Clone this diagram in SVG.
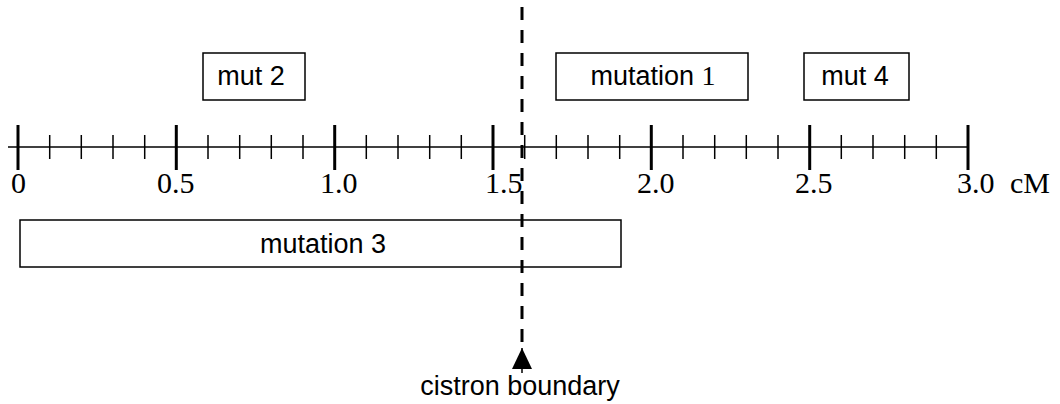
<svg xmlns="http://www.w3.org/2000/svg" width="1060" height="404" viewBox="0 0 1060 404">
<style>
.box{fill:#fff;stroke:#000;stroke-width:1.5}
.lab{font-family:"Liberation Sans",Arial,sans-serif;font-size:27px;fill:#000}
.ser{font-family:"Liberation Serif","Times New Roman",serif;font-size:30px;fill:#000}
.minor{stroke:#000;stroke-width:1.5}
.major{stroke:#000;stroke-width:3}
</style>
<defs>
<marker id="arr" viewBox="0 0 20 21" refX="10" refY="0" markerWidth="20" markerHeight="21" markerUnits="userSpaceOnUse" orient="0">
<path d="M0,21 L10,0 L20,21 Z" fill="#000"/>
</marker>
</defs>
<g id="axis">
<line x1="8" y1="147" x2="968" y2="147" stroke="#000" stroke-width="1.5"/>
<g class="minor">
<line x1="49.7" y1="135" x2="49.7" y2="159"/><line x1="81.3" y1="135" x2="81.3" y2="159"/><line x1="113" y1="135" x2="113" y2="159"/><line x1="144.7" y1="135" x2="144.7" y2="159"/>
<line x1="208" y1="135" x2="208" y2="159"/><line x1="239.7" y1="135" x2="239.7" y2="159"/><line x1="271.3" y1="135" x2="271.3" y2="159"/><line x1="303" y1="135" x2="303" y2="159"/>
<line x1="366.3" y1="135" x2="366.3" y2="159"/><line x1="398" y1="135" x2="398" y2="159"/><line x1="429.7" y1="135" x2="429.7" y2="159"/><line x1="461.3" y1="135" x2="461.3" y2="159"/>
<line x1="524.7" y1="135" x2="524.7" y2="159"/><line x1="556.3" y1="135" x2="556.3" y2="159"/><line x1="588" y1="135" x2="588" y2="159"/><line x1="619.7" y1="135" x2="619.7" y2="159"/>
<line x1="683" y1="135" x2="683" y2="159"/><line x1="714.7" y1="135" x2="714.7" y2="159"/><line x1="746.3" y1="135" x2="746.3" y2="159"/><line x1="778" y1="135" x2="778" y2="159"/>
<line x1="841.3" y1="135" x2="841.3" y2="159"/><line x1="873" y1="135" x2="873" y2="159"/><line x1="904.7" y1="135" x2="904.7" y2="159"/><line x1="936.3" y1="135" x2="936.3" y2="159"/>
</g>
<g class="major">
<line x1="18" y1="125" x2="18" y2="170"/><line x1="176.3" y1="125" x2="176.3" y2="170"/><line x1="334.7" y1="125" x2="334.7" y2="170"/><line x1="493" y1="125" x2="493" y2="170"/><line x1="651.3" y1="125" x2="651.3" y2="170"/><line x1="809.7" y1="125" x2="809.7" y2="170"/><line x1="968" y1="125" x2="968" y2="170"/>
</g>
<g class="ser">
<text x="11" y="193">0</text>
<text x="157" y="193">0.5</text>
<text x="320" y="193">1.0</text>
<text x="485" y="193">1.5</text>
<text x="637" y="193">2.0</text>
<text x="795" y="193">2.5</text>
<text x="957" y="193">3.0</text>
<text x="1010" y="193">cM</text>
</g>
</g>
<g id="mut2">
<rect class="box" x="203" y="53" width="102" height="47"/>
<text class="lab" x="251" y="85" text-anchor="middle">mut 2</text>
</g>
<g id="mutation1">
<rect class="box" x="556" y="53" width="192" height="47"/>
<text class="lab" x="653" y="85" text-anchor="middle">mutation <tspan style="font-family:'Liberation Serif','Times New Roman',serif;font-size:28px">1</tspan></text>
</g>
<g id="mut4">
<rect class="box" x="804" y="53" width="105" height="47"/>
<text class="lab" x="855" y="85" text-anchor="middle">mut 4</text>
</g>
<g id="mutation3">
<rect class="box" x="20" y="220" width="601" height="47"/>
<text class="lab" x="323" y="253" text-anchor="middle">mutation 3</text>
</g>
<g id="connectors">
<line x1="522" y1="7" x2="522" y2="345" stroke="#000" stroke-width="3" stroke-dasharray="13 10"/>
<line x1="522" y1="348" x2="522" y2="373" stroke="#000" stroke-width="1.5" marker-start="url(#arr)"/>
</g>
<g id="cistron">
<text class="lab" x="520" y="395" text-anchor="middle">cistron boundary</text>
</g>
</svg>
